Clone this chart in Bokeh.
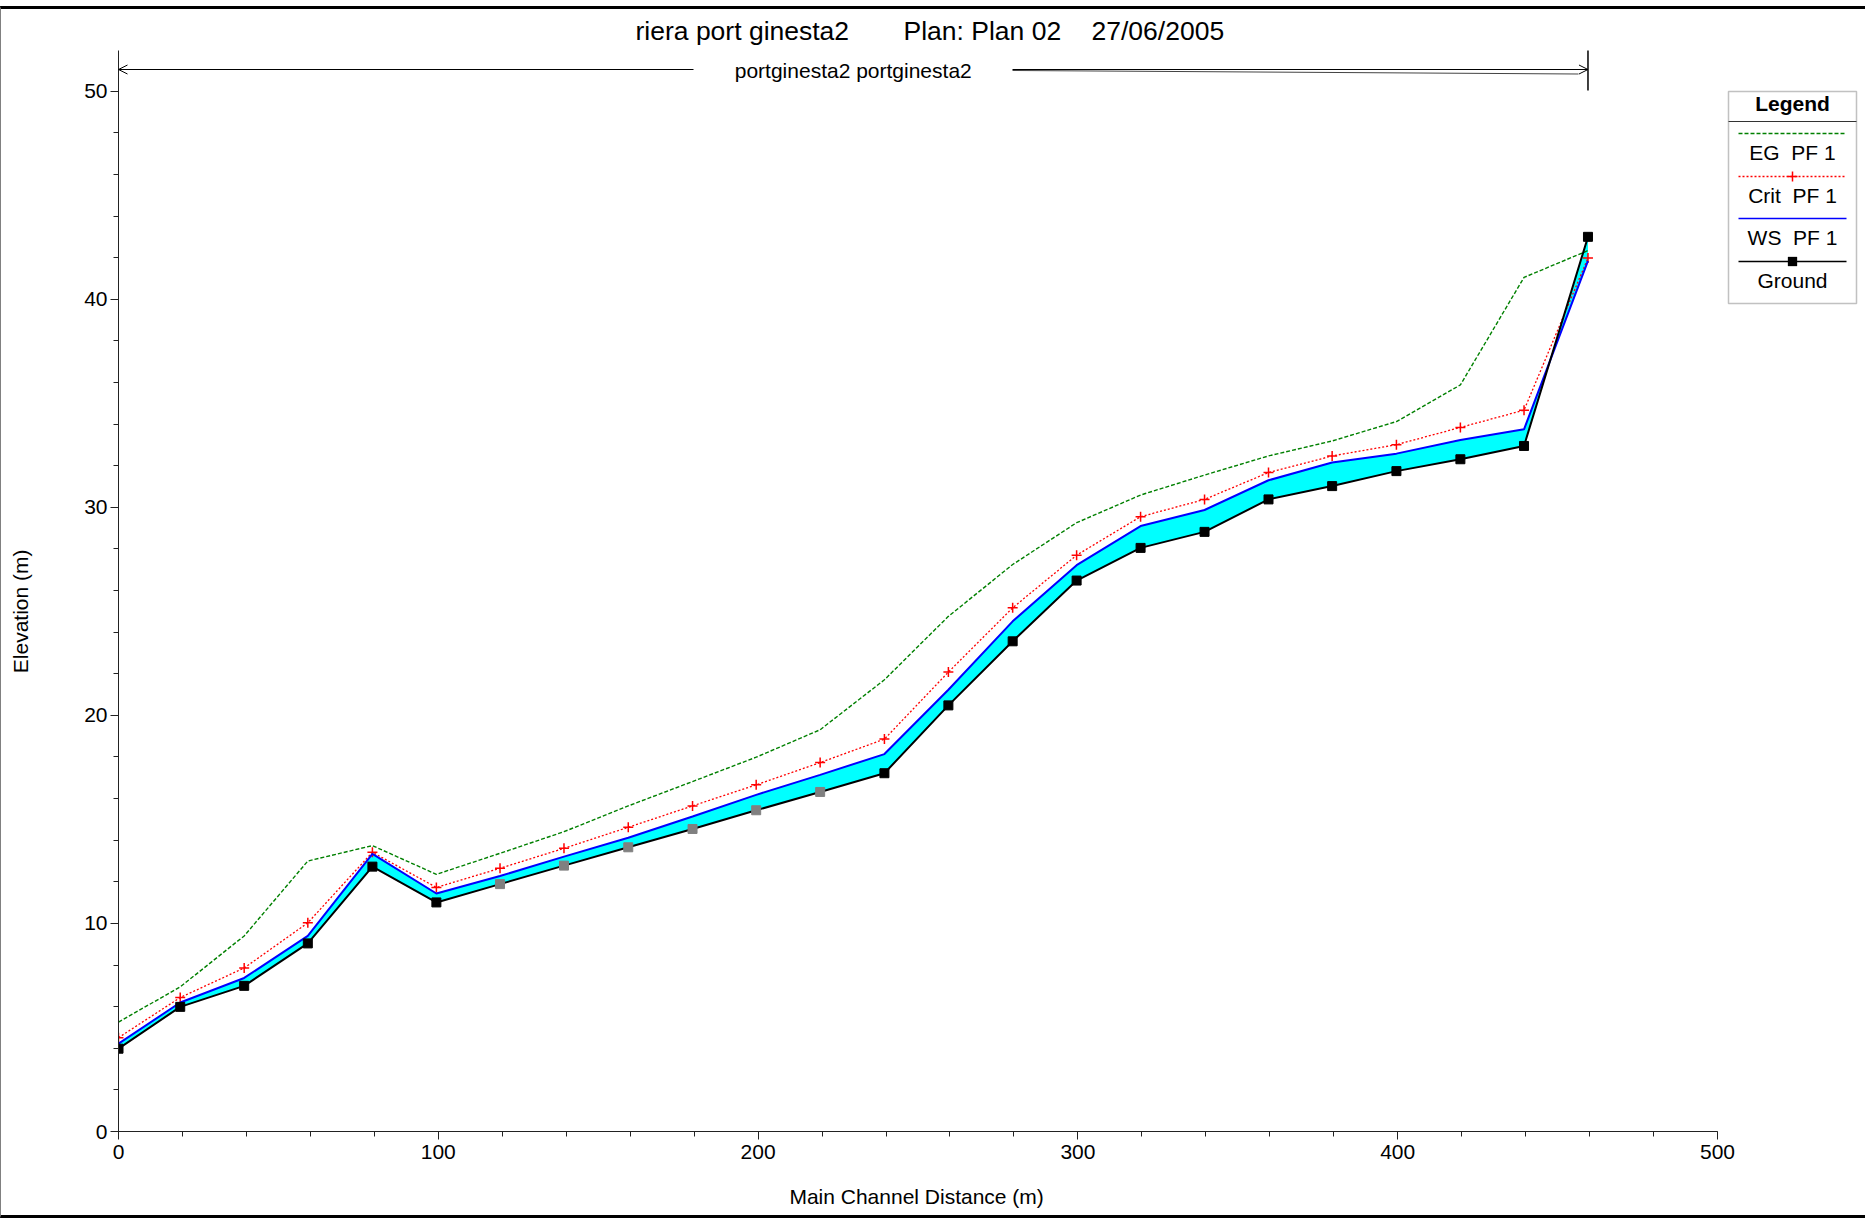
from bokeh.plotting import figure
from bokeh.models import (Range1d, SingleIntervalTicker, Label, Arrow, OpenHead,
                          BoxAnnotation)
from bokeh.embed import file_html
from bokeh.resources import INLINE

# ---------------- data ----------------
station = [0, 19.3, 39.3, 59.2, 79.4, 99.4, 119.3, 139.3, 159.4, 179.5, 199.4, 219.4,
           239.5, 259.5, 279.6, 299.6, 319.6, 339.6, 359.6, 379.5, 399.6, 419.6, 439.5, 459.5]
ground = [3.98, 5.99, 7.00, 9.04, 12.73, 11.01, 11.89, 12.78, 13.66, 14.54, 15.44, 16.32,
          17.22, 20.48, 23.56, 26.48, 28.05, 28.82, 30.38, 31.02, 31.74, 32.31, 32.95, 43.0]
ws_pf1 = [4.22, 6.20, 7.38, 9.40, 13.34, 11.44, 12.28, 13.21, 14.12, 15.14, 16.18, 17.14,
          18.14, 21.23, 24.52, 27.22, 29.10, 29.87, 31.30, 32.15, 32.58, 33.24, 33.75, 41.84]
crit_pf1 = [4.51, 6.44, 7.86, 10.03, 13.42, 11.73, 12.65, 13.61, 14.62, 15.65, 16.66, 17.73,
            18.86, 22.08, 25.17, 27.70, 29.55, 30.38, 31.67, 32.47, 33.01, 33.84, 34.67, 41.98]
eg_pf1 = [5.26, 6.95, 9.40, 13.00, 13.74, 12.36, 13.37, 14.41, 15.65, 16.82, 17.99, 19.31,
          21.71, 24.76, 27.25, 29.26, 30.59, 31.55, 32.47, 33.19, 34.12, 35.88, 41.05, 42.34]
interpolated = [False] * 6 + [True] * 6 + [False] * 12

title_parts = ["riera port ginesta2", "Plan: Plan 02", "27/06/2005"]
reach_label = "portginesta2 portginesta2"
legend_labels = ["EG\u00a0 PF 1", "Crit\u00a0 PF 1", "WS\u00a0 PF 1", "Ground"]
x_label = "Main Channel Distance (m)"
y_label = "Elevation (m)"

# ---------------- geometry (page pixels) ----------------
PAGE_W = 1865
OX, OY = 1, 9              # left border width, top margin + top border
FIG_W, FIG_H = PAGE_W - OX, 1206
CANVAS_H = FIG_H + 6       # element box incl. top+bottom borders
FL, FB = 118, 1131         # page px of x=0 / y=0
SX = (1717 - FL) / 500.0   # px per metre (x)
SY = (FB - 90.7) / 50.0    # px per metre (y)
FONT = "Liberation Sans"
NB = "\u00a0"


def dx(px):
    return (px - FL) / SX


def dy(py):
    return (FB - py) / SY


x_end = dx(PAGE_W + OX)
y_end = dy(OY)

p = figure(width=FIG_W, height=FIG_H, x_range=Range1d(0, x_end), y_range=Range1d(0, y_end),
           output_backend="svg", toolbar_location=None,
           min_border_left=FL - OX, min_border_right=0,
           min_border_top=0, min_border_bottom=CANVAS_H - (FB - OY))
p.styles = {"box-sizing": "content-box", "margin-top": "6px", "border-top": "3px solid black",
            "border-bottom": "3px solid black", "border-left": "1px solid #808080"}
p.outline_line_color = None
p.xgrid.grid_line_color = None
p.ygrid.grid_line_color = None
p.background_fill_color = "white"
p.border_fill_color = "white"

p.xaxis.ticker = SingleIntervalTicker(interval=100, num_minor_ticks=5)
p.yaxis.ticker = SingleIntervalTicker(interval=10, num_minor_ticks=5)
p.xaxis.bounds = (0, 500)
p.yaxis.bounds = (0, 51.95)
for ax in (p.xaxis[0], p.yaxis[0]):
    ax.major_tick_out = 8
    ax.major_tick_in = 0
    ax.minor_tick_out = 5
    ax.minor_tick_in = 0
    ax.axis_line_color = "#222222"
    ax.major_tick_line_color = "#222222"
    ax.minor_tick_line_color = "#222222"
    ax.major_label_text_font = FONT
    ax.major_label_text_font_size = "21px"
    ax.major_label_text_color = "black"
    ax.axis_label_text_font = FONT
    ax.axis_label_text_font_size = "21px"
    ax.axis_label_text_font_style = "normal"
    ax.axis_label_text_color = "black"
# axis titles are centred on the frame; trailing no-break spaces move them onto the axis span
p.xaxis.axis_label = x_label + NB * 26
p.yaxis.axis_label = y_label + NB * 14
p.xaxis.major_label_standoff = 5
p.yaxis.major_label_standoff = 3
p.xaxis.axis_label_standoff = 23
p.yaxis.axis_label_standoff = 49

# ---------------- glyphs ----------------
p.varea(x=station, y1=ground, y2=ws_pf1, fill_color="#00FFFF")
p.line(station, eg_pf1, line_color="#008000", line_dash="4 2", line_width=1.4)
p.line(station, crit_pf1, line_color="#FF0000", line_dash="2 2", line_width=1.3)
p.scatter(station, crit_pf1, marker="cross", size=10, line_color="#FF0000", line_width=1.5)
p.line(station, ws_pf1, line_color="#0000FF", line_width=2)
p.line(station, ground, line_color="black", line_width=2)
sq_colors = ["#808080" if f else "black" for f in interpolated]
p.scatter(station, ground, marker="square", size=9, fill_color=sq_colors, line_color=sq_colors)

# ---------------- reach arrow ----------------
ay = dy(69)
mid = (station[0] + station[-1]) / 2
p.add_layout(Arrow(end=OpenHead(size=9, line_width=1, line_color="black"), x_start=dx(693), y_start=ay,
                   x_end=station[0], y_end=ay, line_width=1, line_color="black"))
p.add_layout(Arrow(end=OpenHead(size=9, line_width=1, line_color="black"), x_start=dx(1012), y_start=ay,
                   x_end=station[-1], y_end=ay, line_width=1, line_color="black"))
p.add_layout(Arrow(end=None, x_start=dx(1012), y_start=dy(70), x_end=dx(1578), y_end=dy(73.5),
                   line_width=1, line_color="#444444"))
p.add_layout(Arrow(end=None, x_start=station[-1], y_start=dy(50), x_end=station[-1], y_end=dy(90),
                   line_width=1.5, line_color="black"))
p.add_layout(Label(x=mid, y=dy(70), text=reach_label, text_align="center", text_baseline="middle",
                   text_font=FONT, text_font_size="21px", text_color="black"))

# ---------------- title ----------------
for txt, px in zip(title_parts, [635, 903, 1091]):
    p.add_layout(Label(x=dx(px), y=dy(30), text=txt, text_align="left", text_baseline="middle",
                       text_font=FONT, text_font_size="26.5px", text_color="black"))

# ---------------- legend ----------------
LL, LR, LT, LB = 1728, 1856, 91, 303
LC = (LL + LR) / 2
p.add_layout(BoxAnnotation(left=dx(LL), right=dx(LR), top=dy(LT), bottom=dy(LB),
                           fill_color="white", fill_alpha=1, line_color="#333333", line_width=1.5))
p.add_layout(Arrow(end=None, x_start=dx(LL), y_start=dy(121), x_end=dx(LR), y_end=dy(121),
                   line_width=1, line_color="#333333"))
p.add_layout(Label(x=dx(LC), y=dy(103), text="Legend", text_align="center", text_baseline="middle",
                   text_font=FONT, text_font_size="21px", text_font_style="bold", text_color="black"))
styles = [("#008000", "4 2", 1.4), ("#FF0000", "2 2", 1.3), ("#0000FF", "solid", 1.6), ("black", "solid", 1.6)]
line_ys = [133, 176, 218, 261]
text_ys = [152, 195, 237, 280]
for (col, dash, lw), ly, ty, lab in zip(styles, line_ys, text_ys, legend_labels):
    p.add_layout(Arrow(end=None, x_start=dx(1738), y_start=dy(ly), x_end=dx(1846), y_end=dy(ly),
                       line_width=lw, line_color=col, line_dash=dash))
    p.add_layout(Label(x=dx(LC), y=dy(ty), text=lab, text_align="center", text_baseline="middle",
                       text_font=FONT, text_font_size="21px", text_color="black"))
cy = 176
p.add_layout(Arrow(end=None, x_start=dx(LC - 5), y_start=dy(cy), x_end=dx(LC + 5), y_end=dy(cy),
                   line_width=1.5, line_color="#FF0000"))
p.add_layout(Arrow(end=None, x_start=dx(LC), y_start=dy(cy - 5), x_end=dx(LC), y_end=dy(cy + 5),
                   line_width=1.5, line_color="#FF0000"))
gy = 261
p.add_layout(BoxAnnotation(left=dx(LC - 4.5), right=dx(LC + 4.5), top=dy(gy - 4.5), bottom=dy(gy + 4.5),
                           fill_color="black", fill_alpha=1, line_color="black", line_width=1))

open("out.html", "w").write(file_html(p, INLINE))
